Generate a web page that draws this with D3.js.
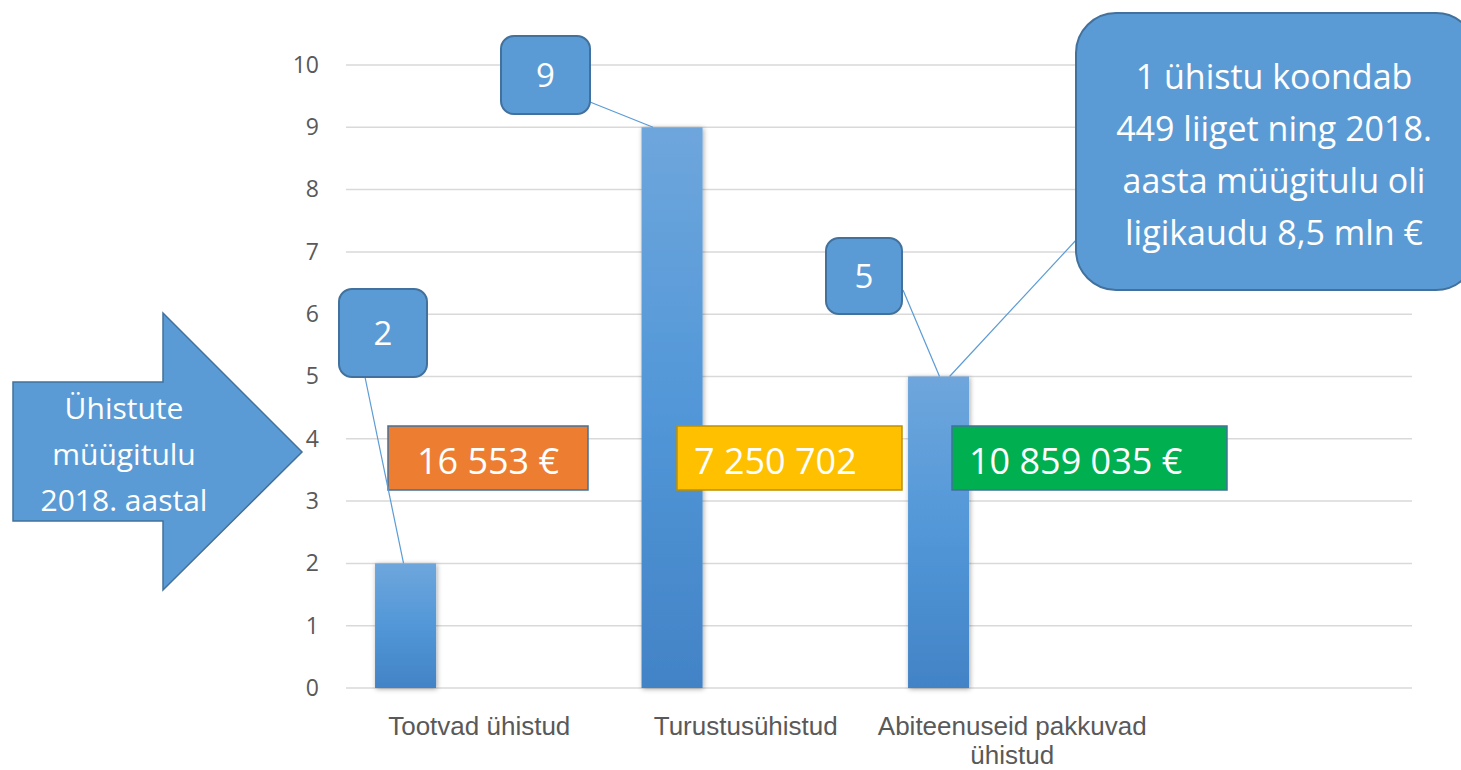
<!DOCTYPE html>
<html>
<head>
<meta charset="utf-8">
<script src="https://cdn.jsdelivr.net/npm/d3@7"></script>
<style>
  html, body { margin: 0; padding: 0; background: #fff; }
  svg { display: block; font-family: 'Open Sans', 'Noto Sans', sans-serif; }
</style>
</head>
<body>
<div id="chart"></div>
<script>
// categories (the 4th slot is empty in the original sheet)
const categories = ['Tootvad ühistud', 'Turustusühistud', 'Abiteenuseid pakkuvad ühistud', '']
const series = ['Ühistute arv', 'Müügitulu']
const counts = [2, 9, 5, null]
const revenue = ['16 553 €', '7 250 702', '10 859 035 €']
const yTicks = [0, 1, 2, 3, 4, 5, 6, 7, 8, 9, 10]
const bigNote = ['1 ühistu koondab', '449 liiget ning 2018.', 'aasta müügitulu oli', 'ligikaudu 8,5 mln €']
const arrowText = ['Ühistute', 'müügitulu', '2018. aastal']

const width = 1461
const height = 770
const margin = {top: 65, right: 49, bottom: 82, left: 346}

const svg = d3.select('#chart').append('svg')
  .attr('width', width)
  .attr('height', height)
  .attr('viewBox', `0 0 ${width} ${height}`)

const defs = svg.append('defs')
const grad = defs.append('linearGradient')
  .attr('id', 'barGrad')
  .attr('x1', 0).attr('y1', 0).attr('x2', 0).attr('y2', 1)
grad.append('stop').attr('offset', '0%').attr('stop-color', '#6ea6dc')
grad.append('stop').attr('offset', '50%').attr('stop-color', '#5297d8')
grad.append('stop').attr('offset', '100%').attr('stop-color', '#4283c6')

const shadow = defs.append('filter').attr('id', 'shadow')
  .attr('x', '-20%').attr('y', '-5%').attr('width', '140%').attr('height', '110%')
shadow.append('feDropShadow')
  .attr('dx', 1).attr('dy', 1).attr('stdDeviation', 2.5)
  .attr('flood-color', '#000').attr('flood-opacity', 0.35)

const x0 = d3.scaleBand()
  .domain(categories)
  .range([margin.left, width - margin.right])

const x1 = d3.scaleBand()
  .domain(series)
  .range([0, x0.bandwidth()])
  .paddingInner(0.586)
  .paddingOuter(0.197)

const y = d3.scaleLinear()
  .domain([0, 10])
  .range([height - margin.bottom, margin.top])

// gridlines
svg.append('g')
  .selectAll('line')
  .data(yTicks)
  .join('line')
  .attr('x1', margin.left)
  .attr('x2', width - margin.right)
  .attr('y1', d => y(d))
  .attr('y2', d => y(d))
  .attr('stroke', '#d9d9d9')
  .attr('stroke-width', 1.5)

// y axis labels
const yAxis = svg.append('g')
  .attr('transform', `translate(${margin.left - 6},0)`)
  .call(d3.axisLeft(y).tickValues(yTicks).tickSize(0).tickPadding(21))
yAxis.select('.domain').remove()
yAxis.selectAll('text')
  .attr('fill', '#595959')
  .style('font-size', '23px')
  .style('font-family', "'Open Sans', sans-serif")

// x axis labels
const xAxis = svg.append('g')
  .attr('transform', `translate(0,${y(0)})`)
  .call(d3.axisBottom(x0).tickSize(0).tickPadding(0))
xAxis.select('.domain').remove()
xAxis.selectAll('text').remove()
xAxis.selectAll('.tick').each(function (d) {
  const words = d.split(' ')
  const lines = d.length > 20 ? [words.slice(0, 2).join(' '), words.slice(2).join(' ')] : [d]
  const t = d3.select(this).append('text')
    .attr('fill', '#595959')
    .attr('text-anchor', 'middle')
    .style('font-size', '26px')
  lines.forEach((l, i) => {
    t.append('tspan').attr('x', 0).attr('y', 47 + i * 29).text(l)
  })
})

// bars
const barData = categories.map((c, i) => ({cat: c, value: counts[i]})).filter(d => d.value != null)
const bx = d => x0(d.cat) + x1(series[0])

svg.append('g')
  .selectAll('rect')
  .data(barData)
  .join('rect')
  .attr('x', bx)
  .attr('y', d => y(d.value))
  .attr('width', x1.bandwidth())
  .attr('height', d => y(0) - y(d.value))
  .attr('fill', 'url(#barGrad)')
  .attr('filter', 'url(#shadow)')

// arrow on the left
const arrow = [[13, 382], [163, 382], [163, 313], [302, 452], [163, 590], [163, 521], [13, 521]]
svg.append('path')
  .attr('d', d3.line()(arrow) + 'Z')
  .attr('fill', '#5b9bd5')
  .attr('stroke', '#41719c')
  .attr('stroke-width', 1.5)
svg.append('text')
  .attr('fill', '#fff')
  .attr('text-anchor', 'middle')
  .style('font-size', '30px')
  .selectAll('tspan')
  .data(arrowText)
  .join('tspan')
  .attr('x', 124)
  .attr('y', (d, i) => 419 + i * 46)
  .text(d => d)

// revenue boxes
const revBoxes = [
  {x: 388, w: 200, fill: '#ed7d31', stroke: '#41719c', tx: 488, anchor: 'middle'},
  {x: 677, w: 225, fill: '#ffc000', stroke: '#bf9000', tx: 694, anchor: 'start'},
  {x: 952, w: 275, fill: '#00b050', stroke: '#41719c', tx: 969, anchor: 'start'}
]
const rev = svg.append('g').selectAll('g')
  .data(revBoxes)
  .join('g')
rev.append('rect')
  .attr('x', d => d.x)
  .attr('y', 426)
  .attr('width', d => d.w)
  .attr('height', 64)
  .attr('fill', d => d.fill)
  .attr('stroke', d => d.stroke)
  .attr('stroke-width', 1.5)
rev.append('text')
  .attr('x', d => d.tx)
  .attr('y', 474)
  .attr('text-anchor', d => d.anchor)
  .attr('fill', '#fff')
  .style('font-size', '36px')
  .text((d, i) => revenue[i])

// value callouts with leader lines
const callouts = [
  {i: 0, x: 339, y: 289, w: 88, h: 88, lx: 365, ly: 377, off: -2},
  {i: 1, x: 501, y: 36, w: 89, h: 78, lx: 590, ly: 102, off: -19},
  {i: 2, x: 826, y: 238, w: 76, h: 76, lx: 903, ly: 290, off: 1}
]
const co = svg.append('g')
co.selectAll('line')
  .data(callouts)
  .join('line')
  .attr('x1', d => d.lx)
  .attr('y1', d => d.ly)
  .attr('x2', d => bx(barData[d.i]) + x1.bandwidth() / 2 + d.off)
  .attr('y2', d => y(counts[d.i]))
  .attr('stroke', '#5b9bd5')
  .attr('stroke-width', 1.2)
co.selectAll('rect')
  .data(callouts)
  .join('rect')
  .attr('x', d => d.x)
  .attr('y', d => d.y)
  .attr('width', d => d.w)
  .attr('height', d => d.h)
  .attr('rx', 13)
  .attr('fill', '#5b9bd5')
  .attr('stroke', '#41719c')
  .attr('stroke-width', 2)
co.selectAll('text')
  .data(callouts)
  .join('text')
  .attr('x', d => d.x + d.w / 2)
  .attr('y', d => d.y + d.h / 2 + 12)
  .attr('text-anchor', 'middle')
  .attr('fill', '#fff')
  .style('font-size', '33px')
  .text(d => counts[d.i])

// big note callout
svg.append('line')
  .attr('x1', 1078).attr('y1', 238)
  .attr('x2', bx(barData[2]) + x1.bandwidth() / 2 + 11)
  .attr('y2', y(counts[2]))
  .attr('stroke', '#5b9bd5')
  .attr('stroke-width', 1.2)
svg.append('rect')
  .attr('x', 1076).attr('y', 13)
  .attr('width', 400).attr('height', 277)
  .attr('rx', 40)
  .attr('fill', '#5b9bd5')
  .attr('stroke', '#41719c')
  .attr('stroke-width', 2)
svg.append('text')
  .attr('fill', '#fff')
  .attr('text-anchor', 'middle')
  .style('font-size', '34px')
  .selectAll('tspan')
  .data(bigNote)
  .join('tspan')
  .attr('x', 1274)
  .attr('y', (d, i) => 89 + i * 52)
  .text(d => d)
</script>
</body>
</html>
